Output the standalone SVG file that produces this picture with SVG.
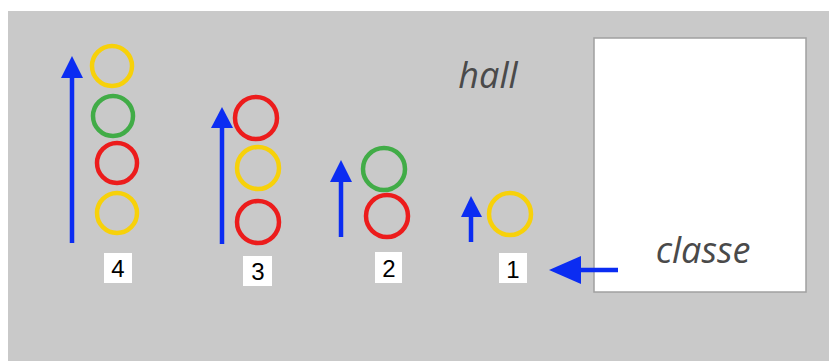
<svg xmlns="http://www.w3.org/2000/svg" width="829" height="361" viewBox="0 0 829 361">
<defs>
<style>
.c{fill:none;stroke-width:4.5}
.y{stroke:#f7d10a}.g{stroke:#41ac47}.r{stroke:#ec1c1c}
.ar{fill:#0b2cf2}
.sh{stroke:#0b2cf2;stroke-width:4.5}
.lb{fill:#fff}
.lt{font-family:"Liberation Sans",Arial,sans-serif;font-size:24px;fill:#000;text-anchor:middle}
.it{font-family:"Open Sans",sans-serif;font-style:italic;font-size:36px;fill:#4a4a4a}
</style>
</defs>
<rect x="8" y="11" width="821" height="350" fill="#c9c9c9"/>
<g id="classe">
<rect x="594" y="38" width="212" height="254" fill="#fff" stroke="#a0a0a0" stroke-width="1.5"/>
<text class="it" x="703" y="263" text-anchor="middle">classe</text>
</g>
<g id="hall"><text class="it" x="488" y="88" text-anchor="middle">hall</text></g>
<g id="col4">
<circle class="c y" cx="112" cy="66" r="20"/>
<circle class="c g" cx="113" cy="116" r="20"/>
<circle class="c r" cx="117" cy="163" r="20"/>
<circle class="c y" cx="117" cy="213" r="20"/>
<rect class="lb" x="104" y="253" width="28" height="30"/>
<text class="lt" x="118" y="277">4</text>
</g>
<g id="col3">
<circle class="c r" cx="256" cy="118" r="21"/>
<circle class="c y" cx="258" cy="168" r="21"/>
<circle class="c r" cx="258" cy="222" r="21"/>
<rect class="lb" x="243" y="256" width="29" height="30"/>
<text class="lt" x="258" y="280">3</text>
</g>
<g id="col2">
<circle class="c g" cx="384" cy="169" r="21"/>
<circle class="c r" cx="387" cy="216" r="21"/>
<rect class="lb" x="375" y="252" width="27" height="31"/>
<text class="lt" x="389" y="277">2</text>
</g>
<g id="col1">
<circle class="c y" cx="510" cy="214" r="21"/>
<rect class="lb" x="499" y="253" width="28" height="30"/>
<text class="lt" x="513" y="278">1</text>
</g>
<g id="connectors">
<line class="sh" x1="72" y1="243" x2="72" y2="76"/>
<polygon class="ar" points="72,56 83,78 61,78"/>
<line class="sh" x1="222" y1="244" x2="222" y2="126"/>
<polygon class="ar" points="222,107 233,128 211,128"/>
<line class="sh" x1="341" y1="237" x2="341" y2="180"/>
<polygon class="ar" points="341,160 352,182 330,182"/>
<line class="sh" x1="471" y1="242" x2="471" y2="215"/>
<polygon class="ar" points="471,196 482,217 461,217"/>
<line class="sh" x1="618" y1="270" x2="578" y2="270"/>
<polygon class="ar" points="549,270 581,256 581,284"/>
</g>
</svg>
